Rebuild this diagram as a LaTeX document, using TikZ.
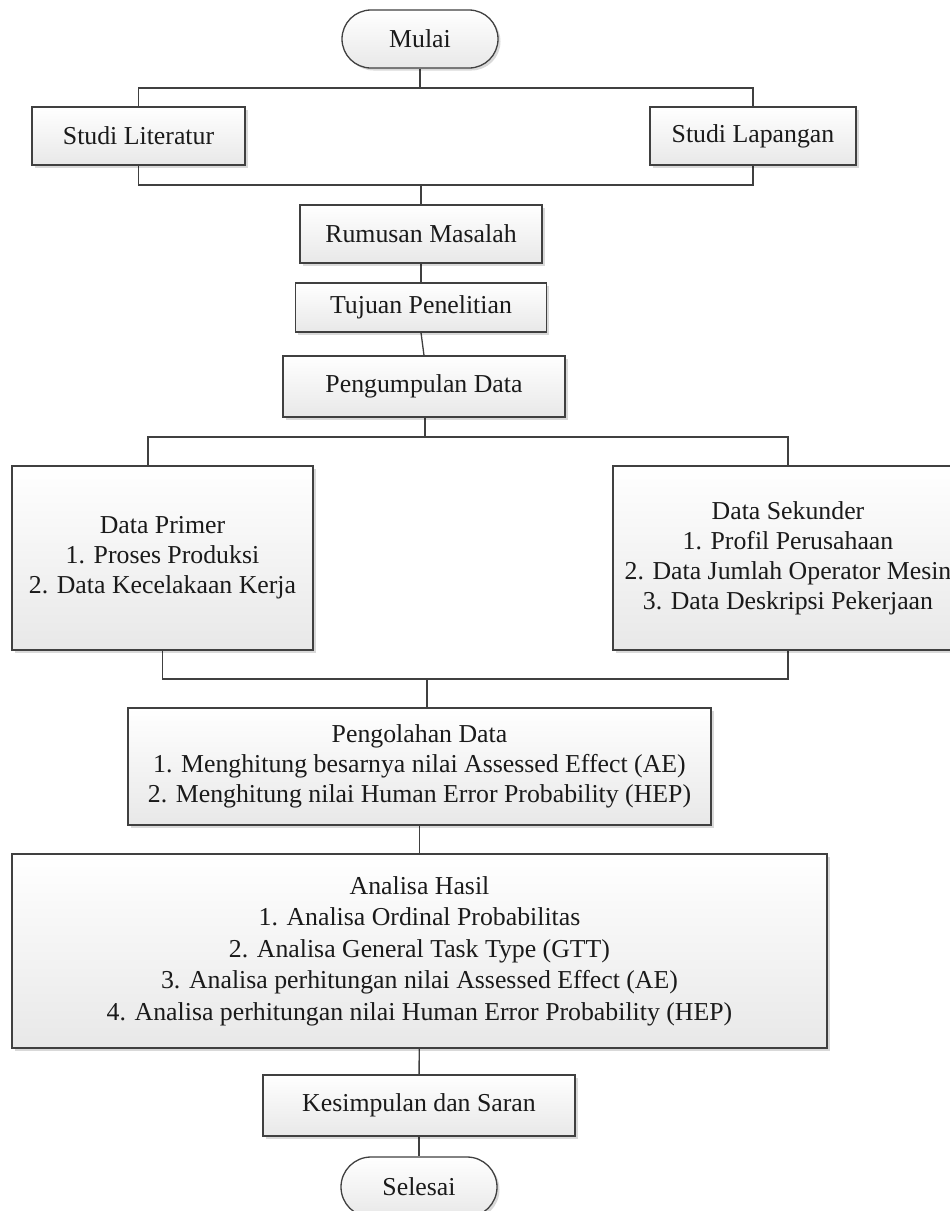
\documentclass[tikz,border=0pt]{standalone}
\usepackage{fontspec}
\setmainfont{Liberation Serif}
\usetikzlibrary{shadows,backgrounds}
\definecolor{linec}{HTML}{404040}
\definecolor{txt}{HTML}{1A1A1A}
\tikzset{
  box/.style={draw=linec, line width=1.3pt, top color=white, bottom color=black!9,
    inner sep=0pt, align=center, text=txt, font=\fontsize{25.8}{30}\selectfont,
    drop shadow={shadow xshift=2.5pt, shadow yshift=-2.5pt, opacity=0.15, fill=black}},
  term/.style={box, rounded corners=29pt},
  conn/.style={draw=linec, line width=1.3pt},
}
\begin{document}
\begin{tikzpicture}[x=1pt,y=-1pt]
\useasboundingbox (0,0) rectangle (950,1211);
\clip (0,0) rectangle (950,1211);
% nodes
\node[term, minimum width=156pt, minimum height=58pt] (mulai) at (420,39) {Mulai};
\node[box, minimum width=213pt, minimum height=58pt] (lit) at (138.5,136) {Studi Literatur};
\node[box, minimum width=206pt, minimum height=58pt] (lap) at (753,136) {Studi Lapangan};
\node[box, minimum width=242pt, minimum height=58pt] (rum) at (421,234) {Rumusan Masalah};
\node[box, minimum width=251pt, minimum height=49pt] (tuj) at (421,307.5) {Tujuan Penelitian};
\node[box, minimum width=282pt, minimum height=61pt] (peng) at (424,386.5) {Pengumpulan Data};
\node[box, minimum width=301pt, minimum height=184pt] (primer) at (162.5,558) {Data Primer\\1. Proses Produksi\\2. Data Kecelakaan Kerja};
\node[box, minimum width=350pt, minimum height=184pt] (sek) at (788,558) {Data Sekunder\\1. Profil Perusahaan\\2. Data Jumlah Operator Mesin\\3. Data Deskripsi Pekerjaan};
\node[box, minimum width=583pt, minimum height=117pt] (olah) at (419.5,766.5) {Pengolahan Data\\1. Menghitung besarnya nilai Assessed Effect (AE)\\2. Menghitung nilai Human Error Probability (HEP)};
\node[box, minimum width=815pt, minimum height=194pt, font=\fontsize{25.8}{31.5}\selectfont] (ana) at (419.5,951) {Analisa Hasil\\1. Analisa Ordinal Probabilitas\\2. Analisa General Task Type (GTT)\\3. Analisa perhitungan nilai Assessed Effect (AE)\\4. Analisa perhitungan nilai Human Error Probability (HEP)};
\node[box, minimum width=312pt, minimum height=61pt] (kes) at (419,1105.5) {Kesimpulan dan Saran};
\node[term, minimum width=156pt, minimum height=60pt, rounded corners=30pt] (sel) at (419,1187) {Selesai};
% junction coordinates
\coordinate (j1) at (420,88);
\coordinate (jl1) at (138.5,88);
\coordinate (jr1) at (753,88);
\coordinate (jl2) at (138.5,185);
\coordinate (jr2) at (753,185);
\coordinate (j2) at (421,185);
\coordinate (j3) at (425,437);
\coordinate (jl3) at (148,437);
\coordinate (jr3) at (788,437);
\coordinate (jl4) at (162.5,679);
\coordinate (jr4) at (788,679);
\coordinate (j4) at (427,679);
% connectors
\begin{scope}[on background layer]
\draw[conn] (mulai) -- (j1);
\draw[conn] (lit.center) -- (jl1) -- (jr1) -- (lap.center);
\draw[conn] (lit.center) -- (jl2) -- (jr2) -- (lap.center);
\draw[conn] (j2) -- (rum);
\draw[conn] (rum) -- (tuj);
\draw[conn] (tuj.south) -- (peng.north);
\draw[conn] (peng.south -| j3) -- (j3);
\draw[conn] (jl3 |- primer.north) -- (jl3) -- (jr3) -- (sek.center);
\draw[conn] (primer.center) -- (jl4) -- (jr4) -- (sek.center);
\draw[conn] (j4) -- (j4 |- olah.north);
\draw[conn] (olah) -- (ana);
\draw[conn] (ana) -- (kes);
\draw[conn] (kes) -- (sel);
\end{scope}
\end{tikzpicture}
\end{document}
